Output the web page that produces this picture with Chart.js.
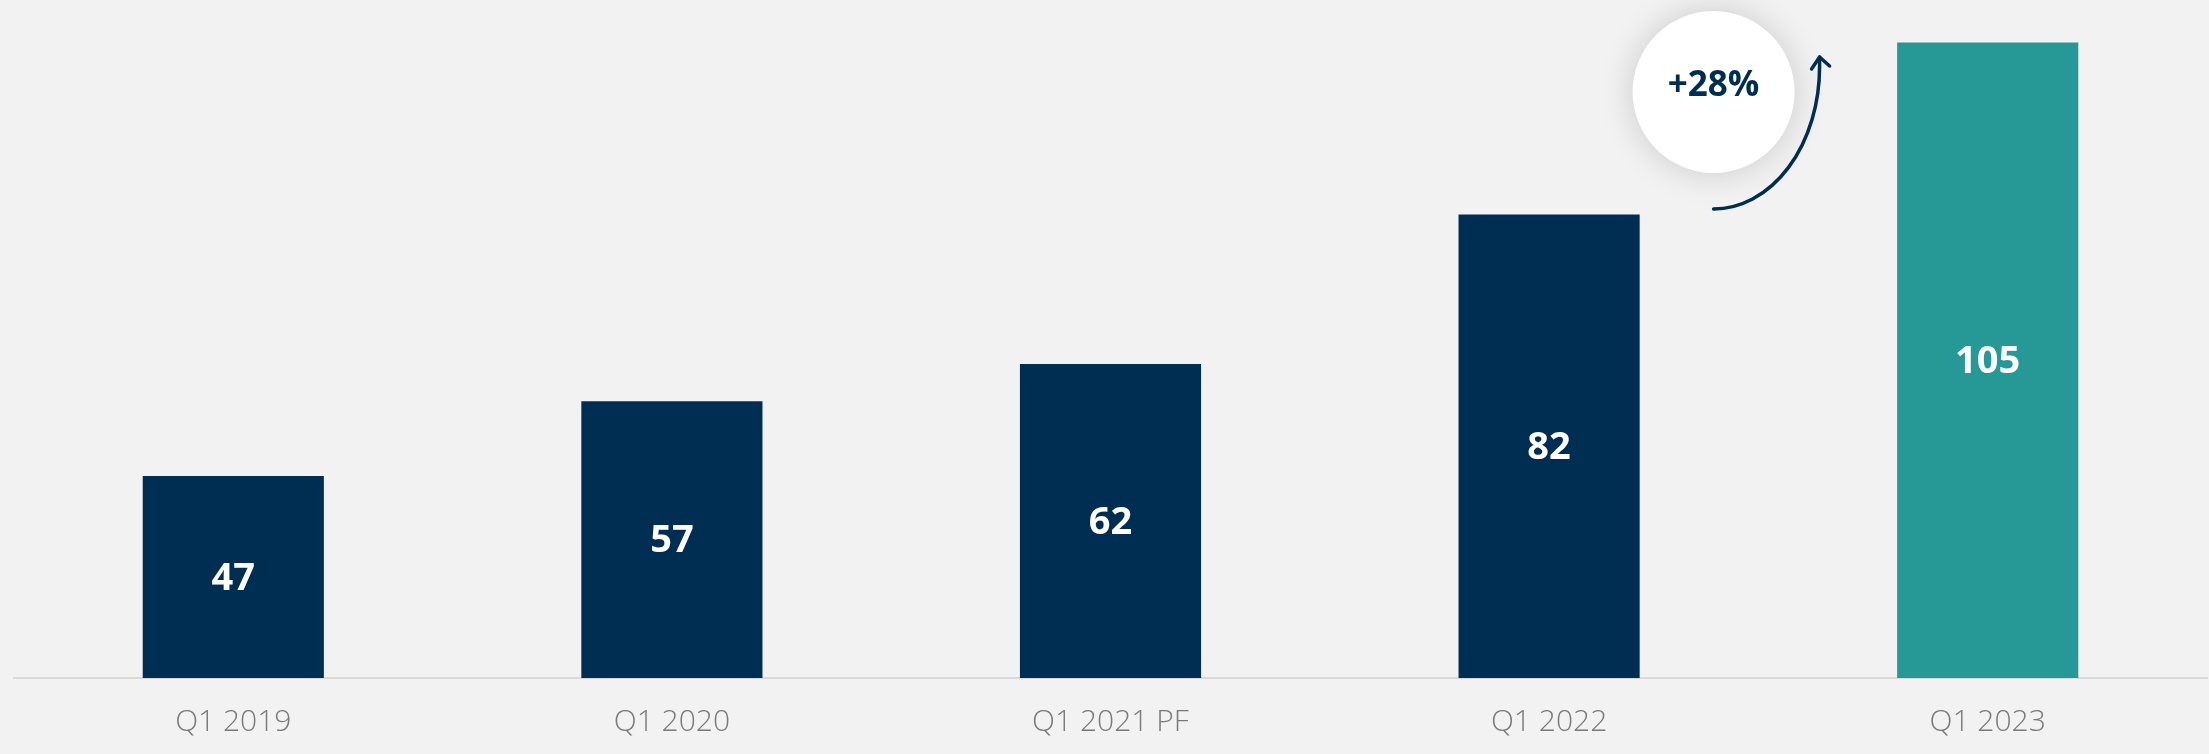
<!DOCTYPE html>
<html>
<head>
<meta charset="utf-8">
<script src="https://cdn.jsdelivr.net/npm/chart.js@4/dist/chart.umd.min.js"></script>
<style>
    html, body { margin: 0; padding: 0; background: #f2f2f2; }
    #wrap { width: 2209px; height: 754px; position: relative; }
</style>
</head>
<body>
<div id="wrap"><canvas id="chart"></canvas></div>
<script>
// Chart data
const categories = ['Q1 2019', 'Q1 2020', 'Q1 2021 PF', 'Q1 2022', 'Q1 2023'];
const values = [47, 57, 62, 82, 105];
const growthLabel = '+28%';

const NAVY = '#002e52';
const TEAL = '#269996';
const barColors = categories.map((c, i) => i === categories.length - 1 ? TEAL : NAVY);

// White numbers centred inside each bar
const valueLabels = {
    id: 'valueLabels',
    afterDatasetsDraw(chart) {
        const ctx = chart.ctx;
        const meta = chart.getDatasetMeta(0);
        const bottom = chart.chartArea.bottom;
        ctx.save();
        ctx.fillStyle = '#ffffff';
        ctx.font = 'bold 38px "Open Sans"';
        ctx.textAlign = 'center';
        ctx.textBaseline = 'middle';
        meta.data.forEach((bar, i) => {
            const base = Math.min(bar.base, bottom);
            ctx.fillText(String(values[i]), bar.x, (bar.y + base) / 2 + 2);
        });
        ctx.restore();
    }
};

// Growth bubble with curved arrow between the last two bars
const growthBubble = {
    id: 'growthBubble',
    afterDraw(chart) {
        const ctx = chart.ctx;
        const x = chart.scales.x;
        const p3 = x.getPixelForValue(3);
        const p4 = x.getPixelForValue(4);
        const cx = p3 + 0.375 * (p4 - p3);
        const cy = chart.chartArea.top + 87;
        const r = 81;

        ctx.save();
        ctx.shadowColor = 'rgba(0,0,0,0.16)';
        ctx.shadowBlur = 34;
        ctx.fillStyle = '#ffffff';
        ctx.beginPath();
        ctx.arc(cx, cy, r, 0, Math.PI * 2);
        ctx.fill();
        ctx.restore();

        ctx.save();
        ctx.fillStyle = NAVY;
        ctx.font = 'bold 35px "Open Sans"';
        ctx.textAlign = 'center';
        ctx.textBaseline = 'middle';
        ctx.fillText(growthLabel, cx, cy - 6);

        // arrow
        const ex = cx, ey = cy - 25, rx = 106, ry = 142;
        ctx.strokeStyle = NAVY;
        ctx.lineWidth = 3.5;
        ctx.lineCap = 'round';
        ctx.lineJoin = 'round';
        ctx.beginPath();
        ctx.ellipse(ex, ey, rx, ry, 0, Math.PI / 2, 0, true);
        ctx.lineTo(ex + rx, ey - 10);
        ctx.stroke();
        const tx = ex + rx, ty = ey - 10;
        ctx.beginPath();
        ctx.moveTo(tx - 8, ty + 12);
        ctx.lineTo(tx, ty);
        ctx.lineTo(tx + 10, ty + 9);
        ctx.stroke();
        ctx.restore();
    }
};

const chart = new Chart(document.getElementById('chart'), {
    type: 'bar',
    data: {
        labels: categories,
        datasets: [{
            data: values,
            backgroundColor: barColors,
            borderWidth: 0,
            categoryPercentage: 1,
            barPercentage: 0.413
        }]
    },
    options: {
        responsive: true,
        maintainAspectRatio: false,
        animation: false,
        layout: { padding: { left: 14, right: 2, top: 5, bottom: 0 } },
        plugins: {
            legend: { display: false },
            tooltip: { enabled: false }
        },
        scales: {
            x: {
                grid: { display: false, drawTicks: false },
                border: { display: true, color: '#d9d9d9', width: 2 },
                ticks: {
                    color: '#7a7a7a',
                    padding: 26,
                    font: { family: '"Open Sans"', size: 30, weight: 300 }
                },
                afterFit(scale) {
                    scale.height = 76;
                }
            },
            y: {
                display: false,
                beginAtZero: false,
                min: 20,
                max: 110
            }
        }
    },
    plugins: [valueLabels, growthBubble]
});
</script>
</body>
</html>
